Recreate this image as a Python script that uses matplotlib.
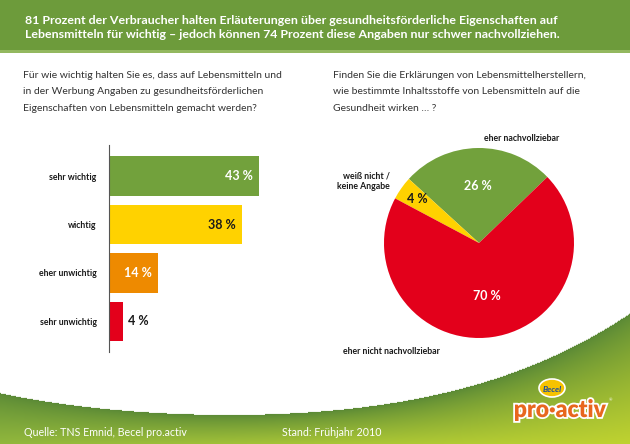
import numpy as np
import matplotlib
matplotlib.use("Agg")
import matplotlib.pyplot as plt
from matplotlib.patches import Rectangle, Ellipse, PathPatch
from matplotlib.textpath import TextPath
from matplotlib.font_manager import FontProperties
from matplotlib.transforms import Affine2D
import matplotlib.patheffects as pe

# ---------------- data ----------------
bar_categories = ["sehr wichtig", "wichtig", "eher unwichtig", "sehr unwichtig"]
bar_values = [43, 38, 14, 4]
bar_colors = ["#72a13c", "#ffd200", "#ee8a00", "#e3001b"]
bar_label_colors = ["white", "#1a1a1a", "white", "#1a1a1a"]

pie_categories = ["eher nachvollziebar", "weiß nicht /\nkeine Angabe", "eher nicht nachvollziebar"]
pie_values = [26, 4, 70]
pie_colors = ["#72a13c", "#ffd200", "#e3001b"]
pie_label_colors = ["white", "#1a1a1a", "white"]

title_lines = ["81 Prozent der Verbraucher halten Erläuterungen über gesundheitsförderliche Eigenschaften auf",
               "Lebensmitteln für wichtig – jedoch können 74 Prozent diese Angaben nur schwer nachvollziehen."]
left_question = ["Für wie wichtig halten Sie es, dass auf Lebensmitteln und",
                 "in der Werbung Angaben zu gesundheitsförderlichen",
                 "Eigenschaften von Lebensmitteln gemacht werden?"]
right_question = ["Finden Sie die Erklärungen von Lebensmittelherstellern,",
                  "wie bestimmte Inhaltsstoffe von Lebensmitteln auf die",
                  "Gesundheit wirken … ?"]
source_text = "Quelle: TNS Emnid, Becel pro.activ"
date_text = "Stand: Frühjahr 2010"

FONT = "Lato"
plt.rcParams["font.family"] = [FONT, "DejaVu Sans"]

W, H = 630, 444
fig = plt.figure(figsize=(W / 100, H / 100), dpi=100)
fig.patch.set_facecolor("white")

def fx(x):
    return x / W

def fy(y):
    return 1 - y / H

# ---------------- background axes (pixel coordinates) ----------------
bg = fig.add_axes([0, 0, 1, 1])
bg.set_xlim(0, W)
bg.set_ylim(H, 0)
bg.axis("off")
bg.set_zorder(0)

# header band
bg.add_patch(Rectangle((0, 0), W, 51, facecolor="#6d9b3b", edgecolor="none"))
bg.add_patch(Rectangle((0, 50), W, 3, facecolor="#93b85f", edgecolor="none"))
for i, line in enumerate(title_lines):
    bg.text(25, 24.5 + i * 14, line, color="white", fontsize=8.9, fontweight="bold",
            va="baseline", ha="left")

# footer gradient under a curve
cx = np.array([0, 100, 200, 315, 420, 520, 630])
cy = np.array([393, 408, 414, 412, 397, 370, 313])
coef = np.polyfit(cx, cy, 4)
xs = np.arange(W)
curve = np.polyval(coef, xs)
yy, xx = np.mgrid[0:H, 0:W]
cv = curve[None, :]
fv = np.clip((yy - cv) / np.maximum(H - cv, 1), 0, 1)
fh = xx / W
dark = np.array([0x5a, 0x89, 0x36]) / 255
light_l = np.array([0x92, 0xb8, 0x3d]) / 255
light_r = np.array([0xc0, 0xd3, 0x30]) / 255
light = light_l[None, None, :] * (1 - fh[..., None]) + light_r[None, None, :] * fh[..., None]
f = fv[..., None] ** 0.8
img = dark[None, None, :] * (1 - f) + light * f
alpha = (yy >= cv).astype(float)
rgba = np.dstack([img, alpha])
bg.imshow(rgba, extent=(0, W, H, 0), interpolation="bilinear", zorder=0)

# questions
for i, line in enumerate(left_question):
    bg.text(23, 75 + i * 16, line, fontsize=7.5, color="#333333", va="center_baseline", ha="left")
for i, line in enumerate(right_question):
    bg.text(333, 75 + i * 16, line, fontsize=7.5, color="#333333", va="center_baseline", ha="left")

# footer texts
bg.text(24, 432, source_text, fontsize=7.7, color="white", va="center", ha="left")
bg.text(282, 432, date_text, fontsize=7.7, color="white", va="center", ha="left")

# logo
bg.add_patch(Ellipse((552, 388), 26, 18, facecolor="#f6c200", edgecolor="white", lw=1.2, zorder=3))
bg.text(552, 389, "Becel", fontsize=6, color="#1d4f9c", fontweight="bold", style="italic",
        ha="center", va="center", zorder=4)
tp = TextPath((0, 0), "pro·activ", size=10, prop=FontProperties(family=FONT, weight="heavy"))
ext = tp.get_extents()
x0, y0, x1, y1 = ext.x0, ext.y0, ext.x1, ext.y1
tx0, tx1, ty_top, ty_bot = 515, 606, 399, 421
sx = (tx1 - tx0) / (x1 - x0)
sy = (ty_bot - ty_top) / (y1 - y0)
tr = Affine2D().translate(-x0, -y0).scale(sx, -sy).translate(tx0, ty_bot) + bg.transData
bg.add_patch(PathPatch(tp, transform=tr, facecolor="white", edgecolor="white", lw=2.6, zorder=4))
bg.add_patch(PathPatch(tp, transform=tr, facecolor="#e8671e", edgecolor="none", zorder=5))
bg.text(609, 400, "®", fontsize=3, color="white", ha="left", va="center", zorder=5)

# ---------------- bar chart ----------------
axl, axr, axt, axb = 109, 300, 145, 352
axb_ = fig.add_axes([fx(axl), fy(axb), (axr - axl) / W, (axb - axt) / H])
axb_.patch.set_alpha(0)
ypos = np.arange(len(bar_categories))
bars = axb_.barh(ypos, bar_values, height=0.82, color=bar_colors)
px_per_unit = 3.49
axb_.set_xlim(0, (axr - axl) / px_per_unit)
axb_.set_ylim(len(bar_categories) - 1 + 0.63, -0.64)
for s in ["top", "right", "bottom"]:
    axb_.spines[s].set_visible(False)
axb_.spines["left"].set_color("#555555")
axb_.spines["left"].set_linewidth(0.8)
axb_.set_xticks([])
axb_.set_yticks(ypos)
axb_.set_yticklabels(bar_categories, fontsize=6.3, fontweight="bold", color="#1a1a1a")
axb_.tick_params(axis="y", length=0, pad=9)
for b, v, c in zip(bars, bar_values, bar_label_colors):
    yc = b.get_y() + b.get_height() / 2
    if v > 10:
        axb_.text(v - 1.8, yc, f"{v} %", ha="right", va="center", color=c,
                  fontsize=9, fontweight="bold")
    else:
        axb_.text(v + 1.4, yc, f"{v} %", ha="left", va="center", color=c,
                  fontsize=9, fontweight="bold")

# ---------------- pie chart ----------------
pcx, pcy, r = 479, 243, 95
axp = fig.add_axes([fx(pcx - r), fy(pcy + r), 2 * r / W, 2 * r / H])
wedges, _ = axp.pie(pie_values, colors=pie_colors, startangle=44, counterclock=True,
                    radius=1, wedgeprops=dict(linewidth=0))
axp.set_xlim(-1, 1)
axp.set_ylim(-1, 1)
axp.set_aspect("equal")
axp.axis("off")
label_r = [0.6, 0.8, 0.56]
for w, v, c, lr in zip(wedges, pie_values, pie_label_colors, label_r):
    ang = np.deg2rad((w.theta1 + w.theta2) / 2)
    axp.text(lr * np.cos(ang), lr * np.sin(ang), f"{v} %", ha="center", va="center",
             color=c, fontsize=9, fontweight="bold")

# outside pie labels (pixel coords)
bg.text(522, 138, pie_categories[0], fontsize=6.3, fontweight="bold", color="#1a1a1a",
        ha="center", va="center")
bg.text(390, 181, pie_categories[1], fontsize=6.3, fontweight="bold", color="#1a1a1a",
        ha="right", va="center", multialignment="right", linespacing=1.2)
bg.text(343, 351, pie_categories[2], fontsize=6.3, fontweight="bold", color="#1a1a1a",
        ha="left", va="center")

fig.savefig("out.png", dpi=100)
